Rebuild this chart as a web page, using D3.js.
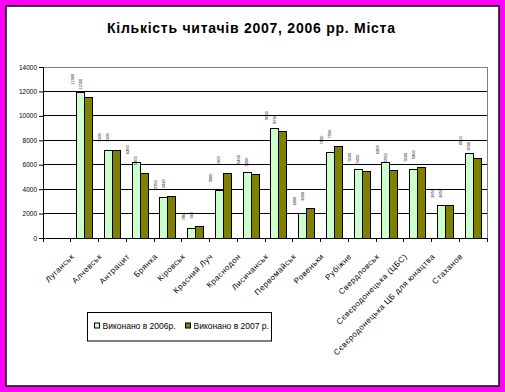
<!DOCTYPE html>
<html>
<head>
<meta charset="utf-8">
<script src="https://cdn.jsdelivr.net/npm/d3@7"></script>
<style>
  body { margin: 0; background: #ff00ff; }
  svg { display: block; font-family: 'Liberation Sans', Arial, sans-serif; }
</style>
</head>
<body>
<div id="chart"></div>
<script>
// Categories (first slot is empty in the original sheet)
var categories = ['', 'Луганськ', 'Алчевськ', 'Антрацит', 'Брянка', 'Кіровськ', 'Красний Луч',
  'Краснодон', 'Лисичанськ', 'Первомайськ', 'Ровеньки', 'Рубіжне', 'Свердловськ',
  'Сєвєродонецька (ЦБС)', 'Сєвєродонецька ЦБ для юнацтва', 'Стаханов'];

var series = ['Виконано в 2006р.', 'Виконано в 2007 р.'];
var colors = ['#ccffcc', '#808000'];

var values2006 = [null, 11900, 7200, 6200, 3350, 780, 3900, 5400, 9000, 2000, 7000, 5600, 6200, 5600, 2650, 6950];
var values2007 = [null, 11500, 7200, 5300, 3420, 940, 5300, 5200, 8700, 2400, 7500, 5450, 5550, 5800, 2650, 6500];

var yTicks = [0, 2000, 4000, 6000, 8000, 10000, 12000, 14000];

var svgWidth = 505, svgHeight = 392;
var margin = { top: 67, right: 18, bottom: 154, left: 43 };
var width = svgWidth - margin.left - margin.right;
var height = svgHeight - margin.top - margin.bottom;

var svg = d3.select('#chart').append('svg')
  .attr('width', svgWidth)
  .attr('height', svgHeight);

// magenta frame and white chart area
svg.append('rect').attr('width', svgWidth).attr('height', svgHeight).attr('fill', '#ff00ff');
svg.append('rect')
  .attr('x', 6).attr('y', 6).attr('width', 493).attr('height', 380)
  .attr('fill', '#fff').attr('stroke', '#000').attr('stroke-width', 1.5);

// title
svg.append('text')
  .attr('x', 251).attr('y', 33)
  .attr('text-anchor', 'middle')
  .attr('font-size', '14px')
  .attr('font-weight', 'bold')
  .attr('textLength', 288)
  .attr('lengthAdjust', 'spacing')
  .text('Кількість читачів 2007, 2006 рр. Міста');

var chart = svg.append('g')
  .attr('transform', 'translate(' + margin.left + ',' + margin.top + ')');

var x0 = d3.scaleBand().domain(d3.range(categories.length)).range([0, width]).padding(0);
var x1 = d3.scaleBand().domain([0, 1]).range([0, x0.bandwidth()]).paddingInner(0).paddingOuter(0.73);
var y = d3.scaleLinear().domain([0, 14000]).range([height, 0]);

// gridlines
chart.selectAll('.grid')
  .data(yTicks.filter(function(d) { return d > 0 && d < 14000; }))
  .enter().append('line')
    .attr('x1', 0).attr('x2', width)
    .attr('y1', function(d) { return y(d); })
    .attr('y2', function(d) { return y(d); })
    .attr('stroke', '#000').attr('stroke-width', 1)
    .attr('shape-rendering', 'crispEdges');

// plot border top and right (grey)
chart.append('path')
  .attr('d', 'M0,' + y(14000) + 'H' + width + 'V' + height)
  .attr('fill', 'none').attr('stroke', '#808080').attr('stroke-width', 1)
  .attr('shape-rendering', 'crispEdges');

// bars
var rows = categories.map(function(c, i) {
  return { i: i, vals: [values2006[i], values2007[i]] };
});

var groups = chart.selectAll('.grp')
  .data(rows)
  .enter().append('g')
    .attr('transform', function(d) { return 'translate(' + x0(d.i) + ',0)'; });

groups.selectAll('rect')
  .data(function(d) { return d.vals.map(function(v, s) { return { s: s, v: v }; }).filter(function(e) { return e.v != null; }); })
  .enter().append('rect')
    .attr('x', function(d) { return x1(d.s); })
    .attr('y', function(d) { return y(d.v); })
    .attr('width', x1.bandwidth())
    .attr('height', function(d) { return height - y(d.v); })
    .attr('fill', function(d) { return colors[d.s]; })
    .attr('stroke', '#000').attr('stroke-width', 1)
    .attr('shape-rendering', 'crispEdges');

// tiny rotated value labels
groups.selectAll('.vl')
  .data(function(d) { return d.vals.map(function(v, s) { return { s: s, v: v }; }).filter(function(e) { return e.v != null; }); })
  .enter().append('text')
    .attr('transform', function(d) {
      return 'translate(' + (x1(d.s) + x1.bandwidth() / 2 - 7) + ',' + (y(d.v) - 8) + ') rotate(-90)';
    })
    .attr('font-size', '4px')
    .attr('fill', '#000')
    .text(function(d) { return d.v; });

// y axis
var yAxis = chart.append('g')
  .call(d3.axisLeft(y).tickValues(yTicks).tickFormat(d3.format('d')).tickSize(4).tickPadding(2));
yAxis.select('.domain').attr('stroke', '#000');
yAxis.selectAll('text').attr('font-size', '6.5px').attr('font-family', 'Liberation Sans, Arial, sans-serif').attr('fill', '#000');

// x axis with ticks at slot boundaries
var xAxis = chart.append('g').attr('transform', 'translate(0,' + height + ')');
xAxis.append('line').attr('x1', 0).attr('x2', width).attr('stroke', '#000').attr('shape-rendering', 'crispEdges');
xAxis.selectAll('.tk')
  .data(d3.range(categories.length + 1))
  .enter().append('line')
    .attr('x1', function(d) { return d * x0.step(); })
    .attr('x2', function(d) { return d * x0.step(); })
    .attr('y1', 0).attr('y2', 4)
    .attr('stroke', '#000').attr('shape-rendering', 'crispEdges');

xAxis.selectAll('.lbl')
  .data(categories)
  .enter().append('text')
    .attr('transform', function(d, i) {
      return 'translate(' + (x0(i) + x0.bandwidth() / 2 - 10) + ',' + 19 + ') rotate(-45)';
    })
    .attr('text-anchor', 'end')
    .attr('font-size', '8px')
    .attr('letter-spacing', '0.5px')
    .attr('fill', '#000')
    .text(function(d) { return d; });

// legend
var legend = svg.append('g').attr('transform', 'translate(87.5,312.5)');
legend.append('rect').attr('width', 184).attr('height', 28.5)
  .attr('fill', '#fff').attr('stroke', '#000').attr('stroke-width', 1);
var lx = [7, 98];
series.forEach(function(s, i) {
  legend.append('rect')
    .attr('x', lx[i]).attr('y', 10.5).attr('width', 5).attr('height', 5)
    .attr('fill', colors[i]).attr('stroke', '#000').attr('stroke-width', 1);
  legend.append('text')
    .attr('x', lx[i] + 8).attr('y', 16.5)
    .attr('font-size', '8.5px')
    .attr('fill', '#000')
    .text(s);
});
</script>
</body>
</html>
